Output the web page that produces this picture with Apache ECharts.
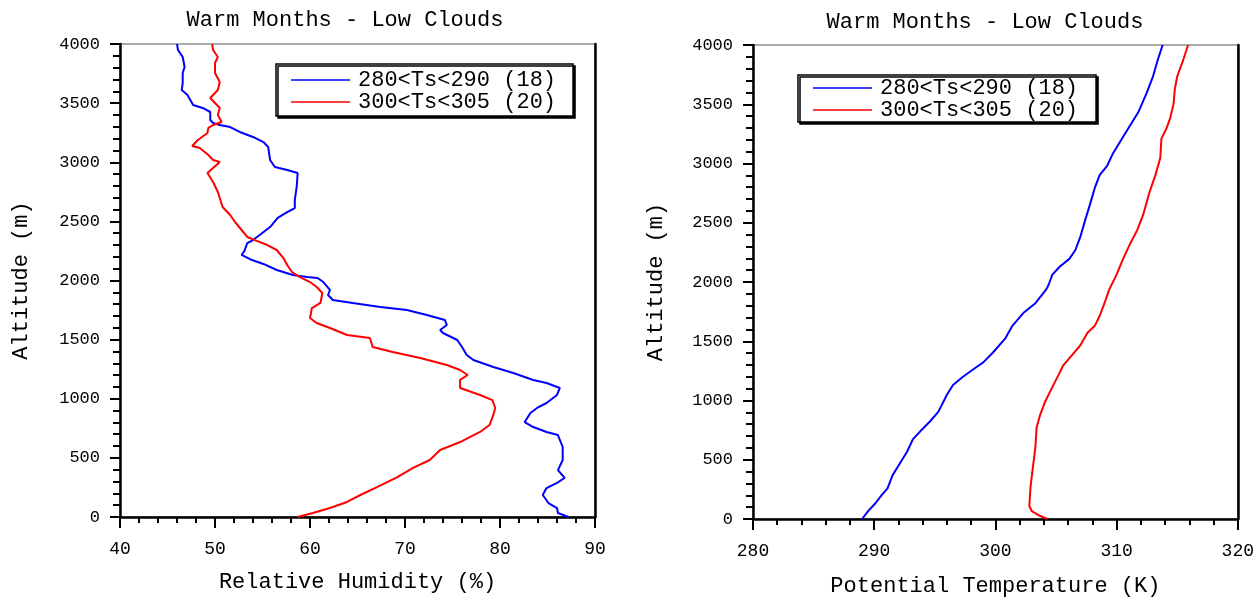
<!DOCTYPE html>
<html>
<head>
<meta charset="utf-8">
<script src="https://cdn.jsdelivr.net/npm/echarts@6/dist/echarts.min.js"></script>
<style>
html,body{margin:0;padding:0;background:#fff;}
#chart{width:1257px;height:602px;}
</style>
</head>
<body>
<div id="chart"></div>
<script>
// ---- Data ----
var titleText = 'Warm Months - Low Clouds';
var seriesNames = ['280<Ts<290 (18)', '300<Ts<305 (20)'];
var altTicks = [0, 500, 1000, 1500, 2000, 2500, 3000, 3500, 4000];
var rhTicks = [40, 50, 60, 70, 80, 90];
var thetaTicks = [280, 290, 300, 310, 320];

// Left panel: relative humidity (%) vs altitude (m)
var altBlueRH = [4000,3950,3890,3805,3755,3670,3611,3569,3484,3459,3425,3357,3332,3315,3298,3256,3214,3171,3129,3019,2960,2934,2909,2791,2681,2613,2579,2529,2452,2385,2342,2317,2250,2216,2173,2140,2089,2047,2030,2021,1987,1920,1877,1835,1810,1776,1751,1708,1666,1624,1581,1556,1497,1438,1370,1328,1268,1218,1159,1133,1091,1032,964,922,879,803,761,719,693,592,482,397,330,288,245,186,118,76,34,0];
var rhBlue    = [46.0,46.1,46.6,46.8,46.6,46.6,46.5,47.1,47.7,48.7,49.5,49.5,49.8,50.5,51.6,52.6,54.0,55.1,55.6,55.8,56.3,57.6,58.7,58.6,58.4,58.4,57.6,56.6,55.8,54.7,54.0,53.4,53.1,52.8,53.9,55.1,56.5,58.2,59.7,60.8,61.4,62.1,61.9,62.4,64.5,67.4,70.2,72.3,74.2,74.4,73.7,74.0,75.5,76.0,76.5,77.2,79.3,81.4,83.5,84.9,86.3,86.0,84.9,83.9,83.2,82.6,83.5,84.9,86.1,86.6,86.6,86.1,86.8,86.0,84.9,84.5,85.1,86.0,86.1,87.2];
var altRedRH  = [4000,3949,3890,3839,3755,3679,3611,3543,3501,3459,3400,3340,3315,3290,3247,3188,3137,3121,3061,3019,3002,2951,2909,2833,2748,2698,2622,2554,2495,2427,2368,2342,2300,2258,2190,2131,2072,2030,1987,1945,1894,1810,1767,1683,1641,1598,1539,1514,1438,1395,1345,1285,1243,1201,1159,1091,1032,989,922,863,778,719,634,567,482,414,338,254,186,127,76,34,0];
var rhRed     = [49.7,49.8,50.3,50.0,50.0,50.5,50.3,49.5,50.0,50.5,50.3,50.7,49.8,49.3,49.2,48.2,47.6,48.4,49.3,49.8,50.5,49.8,49.2,49.8,50.3,50.5,50.8,51.6,52.1,52.8,53.4,54.2,55.5,56.5,57.2,57.6,58.1,58.9,60.0,60.7,61.3,61.1,60.2,60.0,60.7,62.1,63.9,66.3,66.6,68.7,71.6,74.4,75.8,76.6,75.8,75.8,77.9,79.2,79.5,79.3,78.9,77.9,75.8,73.7,72.6,70.8,69.2,67.1,65.3,63.9,62.1,60.3,58.7];

// Right panel: potential temperature (K) vs altitude (m)
var altBlueTh = [4000,3875,3734,3601,3434,3318,3185,3085,2977,2902,2794,2653,2520,2378,2270,2195,2129,2062,1979,1938,1821,1738,1630,1522,1405,1322,1272,1198,1131,1048,906,823,740,674,565,466,366,258,200,133,67,0];
var thBlue    = [313.8,313.4,313.0,312.5,311.8,311.1,310.3,309.7,309.2,308.6,308.2,307.8,307.4,307.0,306.6,306.1,305.3,304.7,304.4,304.2,303.3,302.3,301.4,300.8,299.8,299.0,298.3,297.3,296.5,296.0,295.3,294.6,293.8,293.2,292.7,292.1,291.5,291.1,290.6,290.1,289.5,289.0];
var altRedTh  = [4000,3875,3734,3626,3501,3376,3293,3210,3044,2902,2753,2570,2437,2320,2187,2062,1938,1821,1713,1630,1572,1464,1380,1297,1214,1073,990,881,773,607,441,274,108,67,25,0];
var thRed     = [315.9,315.5,315.0,314.8,314.7,314.4,314.1,313.7,313.6,313.2,312.7,312.2,311.7,311.1,310.5,310.0,309.4,309.0,308.6,308.2,307.6,307.0,306.3,305.6,305.2,304.5,304.1,303.7,303.4,303.3,303.1,302.9,302.8,303.0,303.7,304.3];

function zip(xs, ys) { return xs.map(function (x, i) { return [x, ys[i]]; }); }
function plain(v) { return String(v); }

var FONT = 'Liberation Mono';
var chart = echarts.init(document.getElementById('chart'), null, {renderer: 'canvas'});

function xAxisCfg(gridIndex, ticks, name, nameGap) {
  return {
    type: 'value', gridIndex: gridIndex, position: 'bottom',
    min: ticks[0], max: ticks[ticks.length - 1], interval: ticks[1] - ticks[0],
    name: name, nameLocation: 'middle', nameGap: nameGap,
    nameTextStyle: {fontFamily: FONT, fontSize: 22, color: '#000'},
    axisLine: {show: true, onZero: false, lineStyle: {color: '#000', width: 2.5}},
    axisTick: {show: true, inside: false, length: 11, lineStyle: {color: '#000', width: 2}},
    minorTick: {show: true, splitNumber: 5, length: 6, lineStyle: {color: '#000', width: 2}},
    axisLabel: {fontFamily: FONT, fontSize: 18, color: '#000', margin: 23, formatter: plain},
    splitLine: {show: false}
  };
}
function yAxisCfg(gridIndex, name, nameGap) {
  return {
    type: 'value', gridIndex: gridIndex, position: 'left',
    min: altTicks[0], max: altTicks[altTicks.length - 1], interval: 500,
    name: name, nameLocation: 'middle', nameGap: nameGap, nameRotate: 90,
    nameTextStyle: {fontFamily: FONT, fontSize: 22, color: '#000'},
    axisLine: {show: true, onZero: false, lineStyle: {color: '#000', width: 2.5}},
    axisTick: {show: true, inside: false, length: 10, lineStyle: {color: '#000', width: 2}},
    minorTick: {show: true, splitNumber: 5, length: 7, lineStyle: {color: '#000', width: 2}},
    axisLabel: {fontFamily: FONT, fontSize: 17, color: '#000', margin: 20, formatter: plain},
    splitLine: {show: false}
  };
}
function rightFrame(gridIndex) {
  return {
    type: 'value', gridIndex: gridIndex, position: 'right',
    min: 0, max: 4000,
    axisLine: {show: true, onZero: false, lineStyle: {color: '#000', width: 2.5}},
    axisTick: {show: false}, axisLabel: {show: false}, splitLine: {show: false}
  };
}
function legendCfg(left, top, lineH, padding) {
  return {
    orient: 'vertical', left: left, top: top,
    data: seriesNames.map(function (n) { return {name: n, icon: 'rect'}; }),
    itemWidth: 59, itemHeight: 1.5, itemGap: 0,
    textStyle: {fontFamily: FONT, fontSize: 22, color: '#000', lineHeight: lineH, padding: [0,0,0,3]},
    padding: padding, borderColor: '#000', borderWidth: 1.5, borderRadius: 0,
    backgroundColor: '#fff', shadowColor: '#000', shadowBlur: 0, shadowOffsetX: 2, shadowOffsetY: 2,
    selectedMode: false
  };
}
function lineSeries(name, color, xi, yi, data) {
  return {
    type: 'line', name: name, xAxisIndex: xi, yAxisIndex: yi,
    data: data, symbol: 'none', showSymbol: false, smooth: false,
    lineStyle: {color: color, width: 2}, itemStyle: {color: color},
    animation: false, z: 3
  };
}

var option = {
  backgroundColor: '#fff',
  animation: false,
  title: [
    {text: titleText, left: 345, top: 9, textAlign: 'center', padding: 0,
     textStyle: {fontFamily: FONT, fontSize: 22, fontWeight: 'normal', color: '#000'}},
    {text: titleText, left: 985, top: 11, textAlign: 'center', padding: 0,
     textStyle: {fontFamily: FONT, fontSize: 22, fontWeight: 'normal', color: '#000'}}
  ],
  legend: [
    legendCfg(276, 64, 20, [5, 17, 3, 15]),
    legendCfg(798, 75, 22, [2, 18, 1, 15])
  ],
  grid: [
    {left: 120, right: 662, top: 44, bottom: 85, show: true, borderColor: '#555', borderWidth: 1, backgroundColor: 'transparent'},
    {left: 753, right: 19, top: 45, bottom: 76, show: true, borderColor: '#555', borderWidth: 1, backgroundColor: 'transparent'}
  ],
  xAxis: [
    xAxisCfg(0, rhTicks, 'Relative Humidity (%)', 54),
    xAxisCfg(1, thetaTicks, 'Potential Temperature (K)', 56)
  ],
  yAxis: [
    yAxisCfg(0, 'Altitude (m)', 88),
    yAxisCfg(1, 'Altitude (m)', 86),
    rightFrame(0),
    rightFrame(1)
  ],
  series: [
    lineSeries(seriesNames[0], '#0000ff', 0, 0, zip(rhBlue, altBlueRH)),
    lineSeries(seriesNames[1], '#ff0000', 0, 0, zip(rhRed, altRedRH)),
    lineSeries(seriesNames[0], '#0000ff', 1, 1, zip(thBlue, altBlueTh)),
    lineSeries(seriesNames[1], '#ff0000', 1, 1, zip(thRed, altRedTh))
  ]
};
chart.setOption(option);
</script>
</body>
</html>
